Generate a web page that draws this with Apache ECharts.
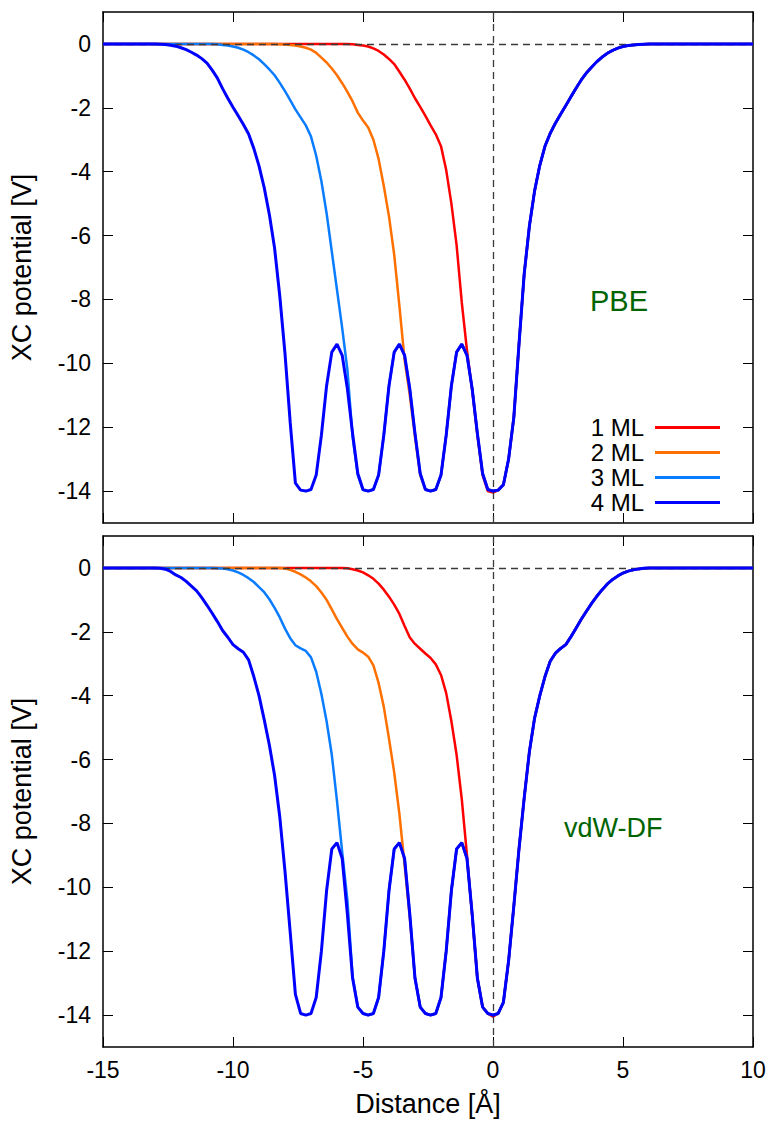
<!DOCTYPE html>
<html>
<head>
<meta charset="utf-8">
<script src="https://cdn.jsdelivr.net/npm/echarts@6/dist/echarts.min.js"></script>
<style>
html,body{margin:0;padding:0;background:#fff;}
#chart{width:769px;height:1124px;}
</style>
</head>
<body>
<div id="chart"></div>
<script>
// Distance grid [Å]
const distance = [-15,-14.5,-14,-13.5,-13,
-12.8,-12.6,-12.4,-12.2,-12,-11.8,-11.6,-11.4,-11.2,-11,
-10.8,-10.6,-10.4,-10.2,-10,-9.8,-9.6,-9.4,-9.2,-9,
-8.8,-8.6,-8.4,-8.2,-8,-7.8,-7.6,-7.4,-7.2,-7,
-6.8,-6.6,-6.4,-6.2,-6,-5.8,-5.6,-5.4,-5.2,-5,
-4.8,-4.6,-4.4,-4.2,-4,-3.8,-3.6,-3.4,-3.2,-3,
-2.8,-2.6,-2.4,-2.2,-2,-1.8,-1.6,-1.4,-1.2,-1,
-0.8,-0.6,-0.4,-0.2,0,0.2,0.4,0.6,0.8,1,
1.2,1.4,1.6,1.8,2,2.2,2.4,2.6,2.8,3,
3.2,3.4,3.6,3.8,4,4.2,4.4,4.6,4.8,5,
5.2,5.4,5.6,5.8,6,6.5,7,7.5,8,8.5,9,9.5,10];

// PBE panel
const pbe1ML = [0,0,0,0,0,
0,0,0,0,0,0,0,0,0,0,
0,0,0,0,0,0,0,0,0,0,
0,0,0,0,0,0,0,0,0,0,
0,0,0,0,0,0,0,-0.01,-0.03,-0.05,
-0.08,-0.14,-0.22,-0.33,-0.47,-0.63,-0.87,-1.12,-1.4,-1.7,
-1.97,-2.25,-2.55,-2.83,-3.2,-3.95,-5.0,-6.3,-8.1,-9.6,
-10.85,-12.25,-13.5,-14.0,-14.05,-13.97,-13.8,-13.0,-11.7,-9.4,
-7.2,-5.7,-4.6,-3.8,-3.2,-2.8,-2.48,-2.2,-1.93,-1.65,
-1.38,-1.12,-0.9,-0.72,-0.55,-0.41,-0.29,-0.2,-0.13,-0.08,
-0.05,-0.03,-0.02,-0.01,0,0,0,0,0,0,0,0,0];
const pbe2ML = [0,0,0,0,0,
0,0,0,0,0,0,0,0,0,0,
0,0,0,0,0,0,0,0,0,0,
0,0,0,-0.01,-0.02,-0.03,-0.05,-0.08,-0.12,-0.18,
-0.28,-0.43,-0.58,-0.77,-0.98,-1.23,-1.5,-1.8,-2.15,-2.4,
-2.62,-3.0,-3.6,-4.45,-5.4,-6.6,-8.2,-9.9,-11.0,-12.3,
-13.5,-13.95,-14.0,-13.95,-13.5,-12.25,-10.7,-9.65,-9.4,-9.75,
-10.8,-12.2,-13.45,-13.95,-14.0,-13.97,-13.8,-13.0,-11.7,-9.4,
-7.2,-5.7,-4.6,-3.8,-3.2,-2.8,-2.48,-2.2,-1.93,-1.65,
-1.38,-1.12,-0.9,-0.72,-0.55,-0.41,-0.29,-0.2,-0.13,-0.08,
-0.05,-0.03,-0.02,-0.01,0,0,0,0,0,0,0,0,0];
const pbe3ML = [0,0,0,0,0,
0,0,0,0,0,0,0,0,0,0,
0,-0.01,-0.03,-0.05,-0.08,-0.12,-0.18,-0.26,-0.36,-0.48,
-0.63,-0.8,-0.98,-1.22,-1.48,-1.76,-2.05,-2.3,-2.55,-2.9,
-3.5,-4.3,-5.3,-6.5,-7.7,-8.9,-10.2,-12.3,-13.5,-13.97,
-14.0,-13.95,-13.5,-12.25,-10.7,-9.65,-9.4,-9.75,-10.8,-12.2,
-13.45,-13.95,-14.0,-13.95,-13.5,-12.25,-10.7,-9.65,-9.4,-9.75,
-10.8,-12.2,-13.45,-13.95,-14.0,-13.97,-13.8,-13.0,-11.7,-9.4,
-7.2,-5.7,-4.6,-3.8,-3.2,-2.8,-2.48,-2.2,-1.93,-1.65,
-1.38,-1.12,-0.9,-0.72,-0.55,-0.41,-0.29,-0.2,-0.13,-0.08,
-0.05,-0.03,-0.02,-0.01,0,0,0,0,0,0,0,0,0];
const pbe4ML = [0,0,0,0,0,
-0.01,-0.02,-0.04,-0.07,-0.12,-0.18,-0.26,-0.35,-0.46,-0.6,
-0.82,-1.07,-1.4,-1.7,-1.98,-2.25,-2.52,-2.82,-3.27,-3.82,
-4.5,-5.35,-6.4,-7.9,-9.7,-11.85,-13.75,-13.97,-14.0,-13.95,
-13.5,-12.25,-10.7,-9.65,-9.4,-9.75,-10.8,-12.2,-13.45,-13.95,
-14.0,-13.95,-13.5,-12.25,-10.7,-9.65,-9.4,-9.75,-10.8,-12.2,
-13.45,-13.95,-14.0,-13.95,-13.5,-12.25,-10.7,-9.65,-9.4,-9.75,
-10.8,-12.2,-13.45,-13.95,-14.0,-13.97,-13.8,-13.0,-11.7,-9.4,
-7.2,-5.7,-4.6,-3.8,-3.2,-2.8,-2.48,-2.2,-1.93,-1.65,
-1.38,-1.12,-0.9,-0.72,-0.55,-0.41,-0.29,-0.2,-0.13,-0.08,
-0.05,-0.03,-0.02,-0.01,0,0,0,0,0,0,0,0,0];

// vdW-DF panel
const vdw1ML = [0,0,0,0,0,
0,0,0,0,0,0,0,0,0,0,
0,0,0,0,0,0,0,0,0,0,
0,0,0,0,0,0,0,0,0,0,
0,0,0,0,0,0,-0.01,-0.04,-0.08,-0.14,
-0.23,-0.34,-0.49,-0.68,-0.9,-1.15,-1.44,-1.82,-2.18,-2.38,
-2.53,-2.68,-2.82,-3.02,-3.35,-3.92,-4.8,-5.85,-7.25,-9.0,
-10.9,-12.85,-13.75,-13.95,-14.05,-13.95,-13.6,-12.3,-10.6,-8.8,
-7.2,-5.75,-4.7,-4.0,-3.4,-2.92,-2.67,-2.52,-2.4,-2.15,
-1.88,-1.6,-1.35,-1.1,-0.88,-0.68,-0.5,-0.36,-0.25,-0.16,
-0.1,-0.06,-0.03,-0.01,0,0,0,0,0,0,0,0,0];
const vdw2ML = [0,0,0,0,0,
0,0,0,0,0,0,0,0,0,0,
0,0,0,0,0,0,0,0,0,0,
0,0,0,0,-0.02,-0.06,-0.12,-0.2,-0.3,-0.42,
-0.57,-0.77,-1.0,-1.3,-1.6,-1.88,-2.15,-2.38,-2.55,-2.65,
-2.78,-3.05,-3.6,-4.35,-5.35,-6.4,-7.7,-9.3,-10.95,-12.85,
-13.75,-13.95,-14.0,-13.95,-13.45,-12.0,-10.1,-8.8,-8.6,-9.1,
-10.85,-12.85,-13.75,-13.95,-14.0,-13.95,-13.6,-12.3,-10.6,-8.8,
-7.2,-5.75,-4.7,-4.0,-3.4,-2.92,-2.67,-2.52,-2.4,-2.15,
-1.88,-1.6,-1.35,-1.1,-0.88,-0.68,-0.5,-0.36,-0.25,-0.16,
-0.1,-0.06,-0.03,-0.01,0,0,0,0,0,0,0,0,0];
const vdw3ML = [0,0,0,0,0,
0,0,0,0,0,0,0,0,0,0,
0,-0.01,-0.02,-0.04,-0.08,-0.14,-0.22,-0.32,-0.44,-0.6,
-0.76,-0.98,-1.25,-1.55,-1.9,-2.2,-2.42,-2.52,-2.6,-2.8,
-3.25,-3.95,-4.8,-5.85,-7.3,-8.9,-10.4,-12.8,-13.75,-13.95,
-14.0,-13.95,-13.45,-12.0,-10.1,-8.8,-8.6,-9.1,-10.85,-12.85,
-13.75,-13.95,-14.0,-13.95,-13.45,-12.0,-10.1,-8.8,-8.6,-9.1,
-10.85,-12.85,-13.75,-13.95,-14.0,-13.95,-13.6,-12.3,-10.6,-8.8,
-7.2,-5.75,-4.7,-4.0,-3.4,-2.92,-2.67,-2.52,-2.4,-2.15,
-1.88,-1.6,-1.35,-1.1,-0.88,-0.68,-0.5,-0.36,-0.25,-0.16,
-0.1,-0.06,-0.03,-0.01,0,0,0,0,0,0,0,0,0];
const vdw4ML = [0,0,0,0,0,
-0.01,-0.04,-0.11,-0.22,-0.3,-0.42,-0.57,-0.72,-0.93,-1.17,
-1.42,-1.68,-1.96,-2.17,-2.4,-2.53,-2.64,-2.88,-3.4,-4.0,
-4.75,-5.55,-6.5,-7.8,-9.5,-11.4,-13.35,-13.95,-14.0,-13.95,
-13.45,-12.0,-10.1,-8.8,-8.6,-9.1,-10.85,-12.85,-13.75,-13.95,
-14.0,-13.95,-13.45,-12.0,-10.1,-8.8,-8.6,-9.1,-10.85,-12.85,
-13.75,-13.95,-14.0,-13.95,-13.45,-12.0,-10.1,-8.8,-8.6,-9.1,
-10.85,-12.85,-13.75,-13.95,-14.0,-13.95,-13.6,-12.3,-10.6,-8.8,
-7.2,-5.75,-4.7,-4.0,-3.4,-2.92,-2.67,-2.52,-2.4,-2.15,
-1.88,-1.6,-1.35,-1.1,-0.88,-0.68,-0.5,-0.36,-0.25,-0.16,
-0.1,-0.06,-0.03,-0.01,0,0,0,0,0,0,0,0,0];

const seriesNames = ['1 ML','2 ML','3 ML','4 ML'];
const seriesColors = ['#ff0000','#ff7000','#0a7cff','#0000ff'];
const panelLabels = ['PBE','vdW-DF'];
const yTicks = [0,-2,-4,-6,-8,-10,-12,-14];
const xLabel = 'Distance [Å]';
const yLabel = 'XC potential [V]';

const FONT = '"Liberation Sans", Arial, Helvetica, sans-serif';
const TICK_FS = 23, TITLE_FS = 27;
const chart = echarts.init(document.getElementById('chart'), null, {renderer:'svg'});

const panels = [[pbe1ML,pbe2ML,pbe3ML,pbe4ML],[vdw1ML,vdw2ML,vdw3ML,vdw4ML]];
const gridDefs = [
  {left:103, top:12, width:650, height:511},
  {left:103, top:536, width:650, height:511}
];

function xAx(gi, pos, labels){
  return {
    type:'value', gridIndex:gi, position:pos, min:-15, max:10, interval:5,
    axisLine:{show:true, onZero:false, lineStyle:{color:'#000', width:1.5}},
    axisTick:{show:true, inside:true, length:10, lineStyle:{color:'#000', width:1}},
    axisLabel:{show:labels, margin:11, fontSize:TICK_FS, color:'#000', fontFamily:FONT},
    splitLine:{show:false},
    name: labels ? xLabel : '', nameLocation:'middle', nameGap:43,
    nameTextStyle:{fontSize:TITLE_FS, color:'#000', fontFamily:FONT}
  };
}
function yAx(gi, pos, labels){
  return {
    type:'value', gridIndex:gi, position:pos, min:-15, max:1,
    axisLine:{show:true, onZero:false, lineStyle:{color:'#000', width:1.5}},
    axisTick:{show:true, inside:true, length:10, customValues:yTicks, lineStyle:{color:'#000', width:1}},
    axisLabel:{show:labels, margin:12, fontSize:TICK_FS, color:'#000', fontFamily:FONT, customValues:yTicks},
    splitLine:{show:false},
    name: labels ? yLabel : '', nameLocation:'middle', nameGap:68, nameRotate:90,
    nameTextStyle:{fontSize:TITLE_FS, color:'#000', fontFamily:FONT}
  };
}

const xAxes = [], yAxes = [], series = [];
for (let g=0; g<2; g++){
  xAxes.push(xAx(g,'bottom', g===1));
  xAxes.push(xAx(g,'top', false));
  yAxes.push(yAx(g,'left', true));
  yAxes.push(yAx(g,'right', false));
  const xi = g*2, yi = g*2;
  series.push({
    type:'line', name:'zero'+g, xAxisIndex:xi, yAxisIndex:yi, data:[], z:1, silent:true,
    markLine:{silent:true, symbol:['none','none'], label:{show:false},
      lineStyle:{color:'#3a3a3a', width:1.3, type:[7,5]},
      data:[{yAxis:0},{xAxis:0}]}
  });
  panels[g].forEach((arr, k)=>{
    series.push({
      type:'line', name:seriesNames[k], xAxisIndex:xi, yAxisIndex:yi,
      data: distance.map((x,i)=>[x, arr[i]]),
      showSymbol:false, symbol:'none', smooth:false, z:2+k,
      lineStyle:{color:seriesColors[k], width:k===3?3:2.5},
      itemStyle:{color:seriesColors[k]},
      emphasis:{disabled:true}, animation:false
    });
  });
}

const option = {
  backgroundColor:'#fff',
  animation:false,
  grid:gridDefs,
  xAxis:xAxes,
  yAxis:yAxes,
  legend:{
    data:seriesNames.map(n=>({name:n, icon:'rect'})),
    orient:'vertical', align:'right',
    right:44, top:410, itemWidth:65, itemHeight:3, itemGap:0,
    textStyle:{fontSize:24, lineHeight:25, color:'#000', fontFamily:FONT, padding:[0,6,0,0]},
    selectedMode:false
  },
  title:[
    {text:panelLabels[0], left:585, top:281, textStyle:{fontSize:29, fontWeight:'normal', color:'#006400', fontFamily:FONT}},
    {text:panelLabels[1], left:559, top:809, textStyle:{fontSize:27, fontWeight:'normal', color:'#006400', fontFamily:FONT}}
  ],
  series:series
};
chart.setOption(option);
</script>
</body>
</html>
